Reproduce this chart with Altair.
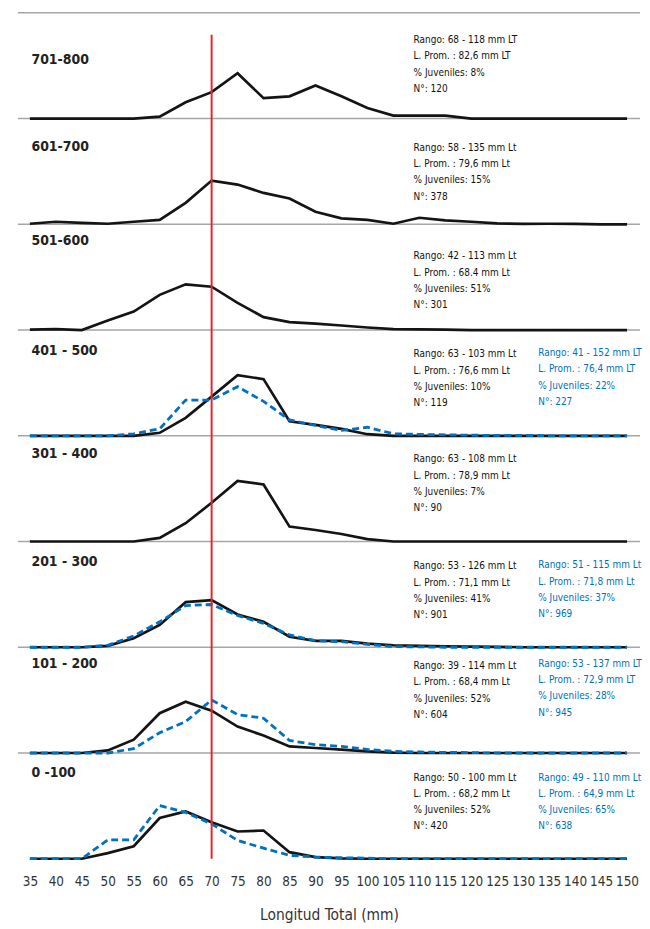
import altair as alt
import pandas as pd

# ---------------- data ----------------
lengths = list(range(35, 155, 5))

panel_names = ["701-800", "601-700", "501-600", "401 - 500",
               "301 - 400", "201 - 300", "101 - 200", "0 -100"]

black_701_800 = [0, 0, 0, 0, 0, 1, 8.2, 13.3, 22.8, 10.3, 11.2, 16.7, 11.2, 5.3, 1.5, 1.5, 1.5, 0, 0, 0, 0, 0, 0, 0]
black_601_700 = [0.3, 1.3, 0.7, 0.3, 1.3, 2.2, 10.8, 22, 20, 15.8, 13, 6.3, 3, 2.2, 0.3, 3.3, 2, 1.3, 0.5, 0.2, 0.3, 0.2, 0, 0]
black_501_600 = [0.2, 0.5, 0, 4.8, 9.3, 17.7, 23, 21.8, 13.7, 6.5, 4, 3.2, 2.3, 1.3, 0.5, 0.3, 0.2, 0, 0, 0, 0, 0, 0, 0]
black_401_500 = [0, 0, 0, 0, 0, 1.5, 9, 19.7, 30.5, 28.5, 7.3, 5.5, 3.5, 0.8, 0, 0, 0, 0, 0, 0, 0, 0, 0, 0]
black_301_400 = [0, 0, 0, 0, 0, 1.8, 9.2, 19.5, 30.5, 28.7, 7.5, 5.8, 3.8, 1.2, 0, 0, 0, 0, 0, 0, 0, 0, 0, 0]
black_201_300 = [0, 0, 0, 0.7, 4.5, 11.2, 22.7, 23.7, 16.5, 12.8, 5.3, 3.2, 3.2, 1.8, 1, 0.7, 0.5, 0.3, 0.2, 0, 0, 0, 0, 0]
black_101_200 = [0, 0, 0, 1.3, 6.7, 20, 25.8, 21.3, 13.3, 8.8, 3.3, 2.5, 1.7, 0.8, 0.2, 0, 0, 0, 0, 0, 0, 0, 0, 0]
black_0_100 = [0, 0, 0, 2.8, 6.3, 20.5, 23.8, 18.3, 13.7, 14.2, 3.3, 0.8, 0.2, 0, 0, 0, 0, 0, 0, 0, 0, 0, 0, 0]

blue_401_500 = [0, 0, 0, 0, 1, 3.5, 18, 18, 24.7, 17.3, 8, 5.2, 2.7, 4.3, 1, 0.7, 0.5, 0.3, 0.2, 0.2, 0, 0, 0, 0]
blue_201_300 = [0, 0, 0, 1, 5.7, 12.8, 21, 21.5, 16, 12, 6.2, 3.3, 2.8, 1.5, 0.3, 0.2, 0, 0, 0, 0, 0, 0, 0, 0]
blue_101_200 = [0, 0, 0, 0, 2.2, 10.2, 15.8, 26.7, 19.3, 17.5, 6.3, 4.2, 3.3, 1.8, 0.8, 0.5, 0.3, 0.2, 0, 0, 0, 0, 0, 0]
blue_0_100 = [0, 0, 0, 9.5, 9.5, 26.7, 23.3, 17.5, 9.2, 5.3, 1.7, 0.8, 0.5, 0.3, 0, 0, 0, 0, 0, 0, 0, 0, 0, 0]

black_series = [black_701_800, black_601_700, black_501_600, black_401_500,
                black_301_400, black_201_300, black_101_200, black_0_100]
blue_series = [None, None, None, blue_401_500, None, blue_201_300, blue_101_200, blue_0_100]

black_notes = [
    ["Rango: 68 - 118 mm LT", "L. Prom. : 82,6 mm LT", "% Juveniles:  8%", "N°: 120"],
    ["Rango: 58 - 135 mm Lt", "L. Prom. : 79,6 mm Lt", "% Juveniles:  15%", "N°: 378"],
    ["Rango: 42 - 113 mm Lt", "L. Prom. : 68.4 mm Lt", "% Juveniles:  51%", "N°: 301"],
    ["Rango: 63 - 103 mm Lt", "L. Prom. : 76,6 mm Lt", "% Juveniles:  10%", "N°: 119"],
    ["Rango: 63 - 108 mm Lt", "L. Prom. : 78,9 mm Lt", "% Juveniles: 7%", "N°: 90"],
    ["Rango: 53 - 126 mm Lt", "L. Prom. : 71,1 mm Lt", "% Juveniles:  41%", "N°: 901"],
    ["Rango: 39 - 114 mm Lt", "L. Prom. : 68,4 mm Lt", "% Juveniles:  52%", "N°: 604"],
    ["Rango: 50 - 100 mm Lt", "L. Prom. : 68,2 mm Lt", "% Juveniles:  52%", "N°: 420"],
]
blue_notes = [
    None, None, None,
    ["Rango: 41 - 152 mm LT", "L. Prom. : 76,4 mm LT", "% Juveniles:  22%", "N°: 227"],
    None,
    ["Rango: 51 - 115 mm Lt", "L. Prom. : 71,8 mm Lt", "% Juveniles:  37%", "N°: 969"],
    ["Rango: 53 - 137 mm LT", "L. Prom. : 72,9 mm LT", "% Juveniles:  28%", "N°: 945"],
    ["Rango: 49 - 110 mm Lt", "L. Prom. : 64,9 mm Lt", "% Juveniles:  65%", "N°: 638"],
]

# ---------------- layout ----------------
W = 626
PH = 106.4                 # pixel height of one panel
NP = len(panel_names)
YMAX = PH / 2.0            # value span of one panel
H = PH * NP
XDOM = [32.7, 152.5]
FONT = "DejaVu Sans Condensed, Liberation Sans, sans-serif"
BLACK = "#141414"
BLUE = "#0070C0"
RED = "#E8252B"
GRAY = "#a6a6a6"

label_off = [47.5, 29, 16.4, 21.6, 18.8, 20.7, 16.5, 20.1]      # px from panel top
black_off = [27.3, 29.5, 32.1, 24.6, 23.8, 25, 18.9, 24.7]
blue_off = [None, None, None, 23.3, None, 24, 16.5, 24.7]
LINE_STEP = 16.4
BLACK_X = 108.9
BLUE_X = 132.9
LABEL_X = 35.3
RED_TOP_OFF = 22


def panel_y(i, off_px):
    # value-space y of a point off_px pixels below the top of panel i
    return (NP - i) * YMAX - off_px / 2.0


# ---------------- tables ----------------
rows = []
for i in range(NP):
    for x, v in zip(lengths, black_series[i]):
        rows.append({"panel": i, "serie": "black", "x": x, "v": v})
    if blue_series[i] is not None:
        for x, v in zip(lengths, blue_series[i]):
            rows.append({"panel": i, "serie": "blue", "x": x, "v": v})
lines_df = pd.DataFrame(rows)

grid_df = pd.DataFrame({"x": [XDOM[0]] * NP, "x2": [XDOM[1]] * NP,
                        "y": [panel_y(i, 0) for i in range(NP)]})
red_df = pd.DataFrame({"x": [70], "y": [panel_y(0, RED_TOP_OFF)], "y2": [0]})
label_df = pd.DataFrame({"t": panel_names, "x": [LABEL_X] * NP,
                         "y": [panel_y(i, label_off[i]) for i in range(NP)]})
bn, un = [], []
for i in range(NP):
    for k, t in enumerate(black_notes[i]):
        bn.append({"t": t, "x": BLACK_X, "y": panel_y(i, black_off[i] + k * LINE_STEP)})
    if blue_notes[i] is not None:
        for k, t in enumerate(blue_notes[i]):
            un.append({"t": t, "x": BLUE_X, "y": panel_y(i, blue_off[i] + k * LINE_STEP)})
bnotes_df = pd.DataFrame(bn)
unotes_df = pd.DataFrame(un)

# ---------------- chart ----------------
XSC = alt.Scale(domain=XDOM, nice=False, zero=False)
YSC = alt.Scale(domain=[0, NP * YMAX], nice=False, zero=False)
XAX = alt.Axis(values=lengths, labelFontSize=13.5, labelColor="#333333", labelFont=FONT,
               domain=False, ticks=False, grid=False, labelPadding=16, labelFlush=False,
               title="Longitud Total (mm)", titleFont=FONT, titleFontSize=15.5,
               titleFontWeight="normal", titleColor="#333333", titlePadding=20)


def X(field):
    return alt.X(field, scale=XSC, axis=XAX)


def Y(field):
    return alt.Y(field, scale=YSC, axis=None)


grid = alt.Chart(grid_df).mark_rule(color=GRAY, strokeWidth=1.5).encode(
    x=X("x:Q"), x2="x2:Q", y=Y("y:Q"))

base_lines = alt.Chart(lines_df).transform_calculate(
    yy=f"({NP} - 1 - datum.panel) * {YMAX} + datum.v")

black_lines = base_lines.transform_filter("datum.serie == 'black'").mark_line(
    color=BLACK, strokeWidth=2.7).encode(x=X("x:Q"), y=Y("yy:Q"), detail="panel:N")

blue_lines = base_lines.transform_filter("datum.serie == 'blue'").mark_line(
    color=BLUE, strokeWidth=2.8, strokeDash=[7, 4]).encode(x=X("x:Q"), y=Y("yy:Q"), detail="panel:N")

red = alt.Chart(red_df).mark_rule(color=RED, strokeWidth=2).encode(
    x=X("x:Q"), y=Y("y:Q"), y2="y2:Q")

labels = alt.Chart(label_df).mark_text(align="left", baseline="middle", font=FONT, fontSize=14,
                                       fontWeight="bold", color="#222222").encode(
    x=X("x:Q"), y=Y("y:Q"), text="t:N")

bnotes = alt.Chart(bnotes_df).mark_text(align="left", baseline="middle", font=FONT, fontSize=10,
                                        color="#111111").encode(x=X("x:Q"), y=Y("y:Q"), text="t:N")

unotes = alt.Chart(unotes_df).mark_text(align="left", baseline="middle", font=FONT, fontSize=10,
                                        color=BLUE).encode(x=X("x:Q"), y=Y("y:Q"), text="t:N")

chart = alt.layer(grid, black_lines, blue_lines, red, labels, bnotes, unotes).properties(
    width=W, height=H,
    padding={"left": 9, "top": 1, "right": 0, "bottom": 0}
).configure_view(stroke=None)

chart.save("out.html", embed_options={"renderer": "svg", "actions": False})
